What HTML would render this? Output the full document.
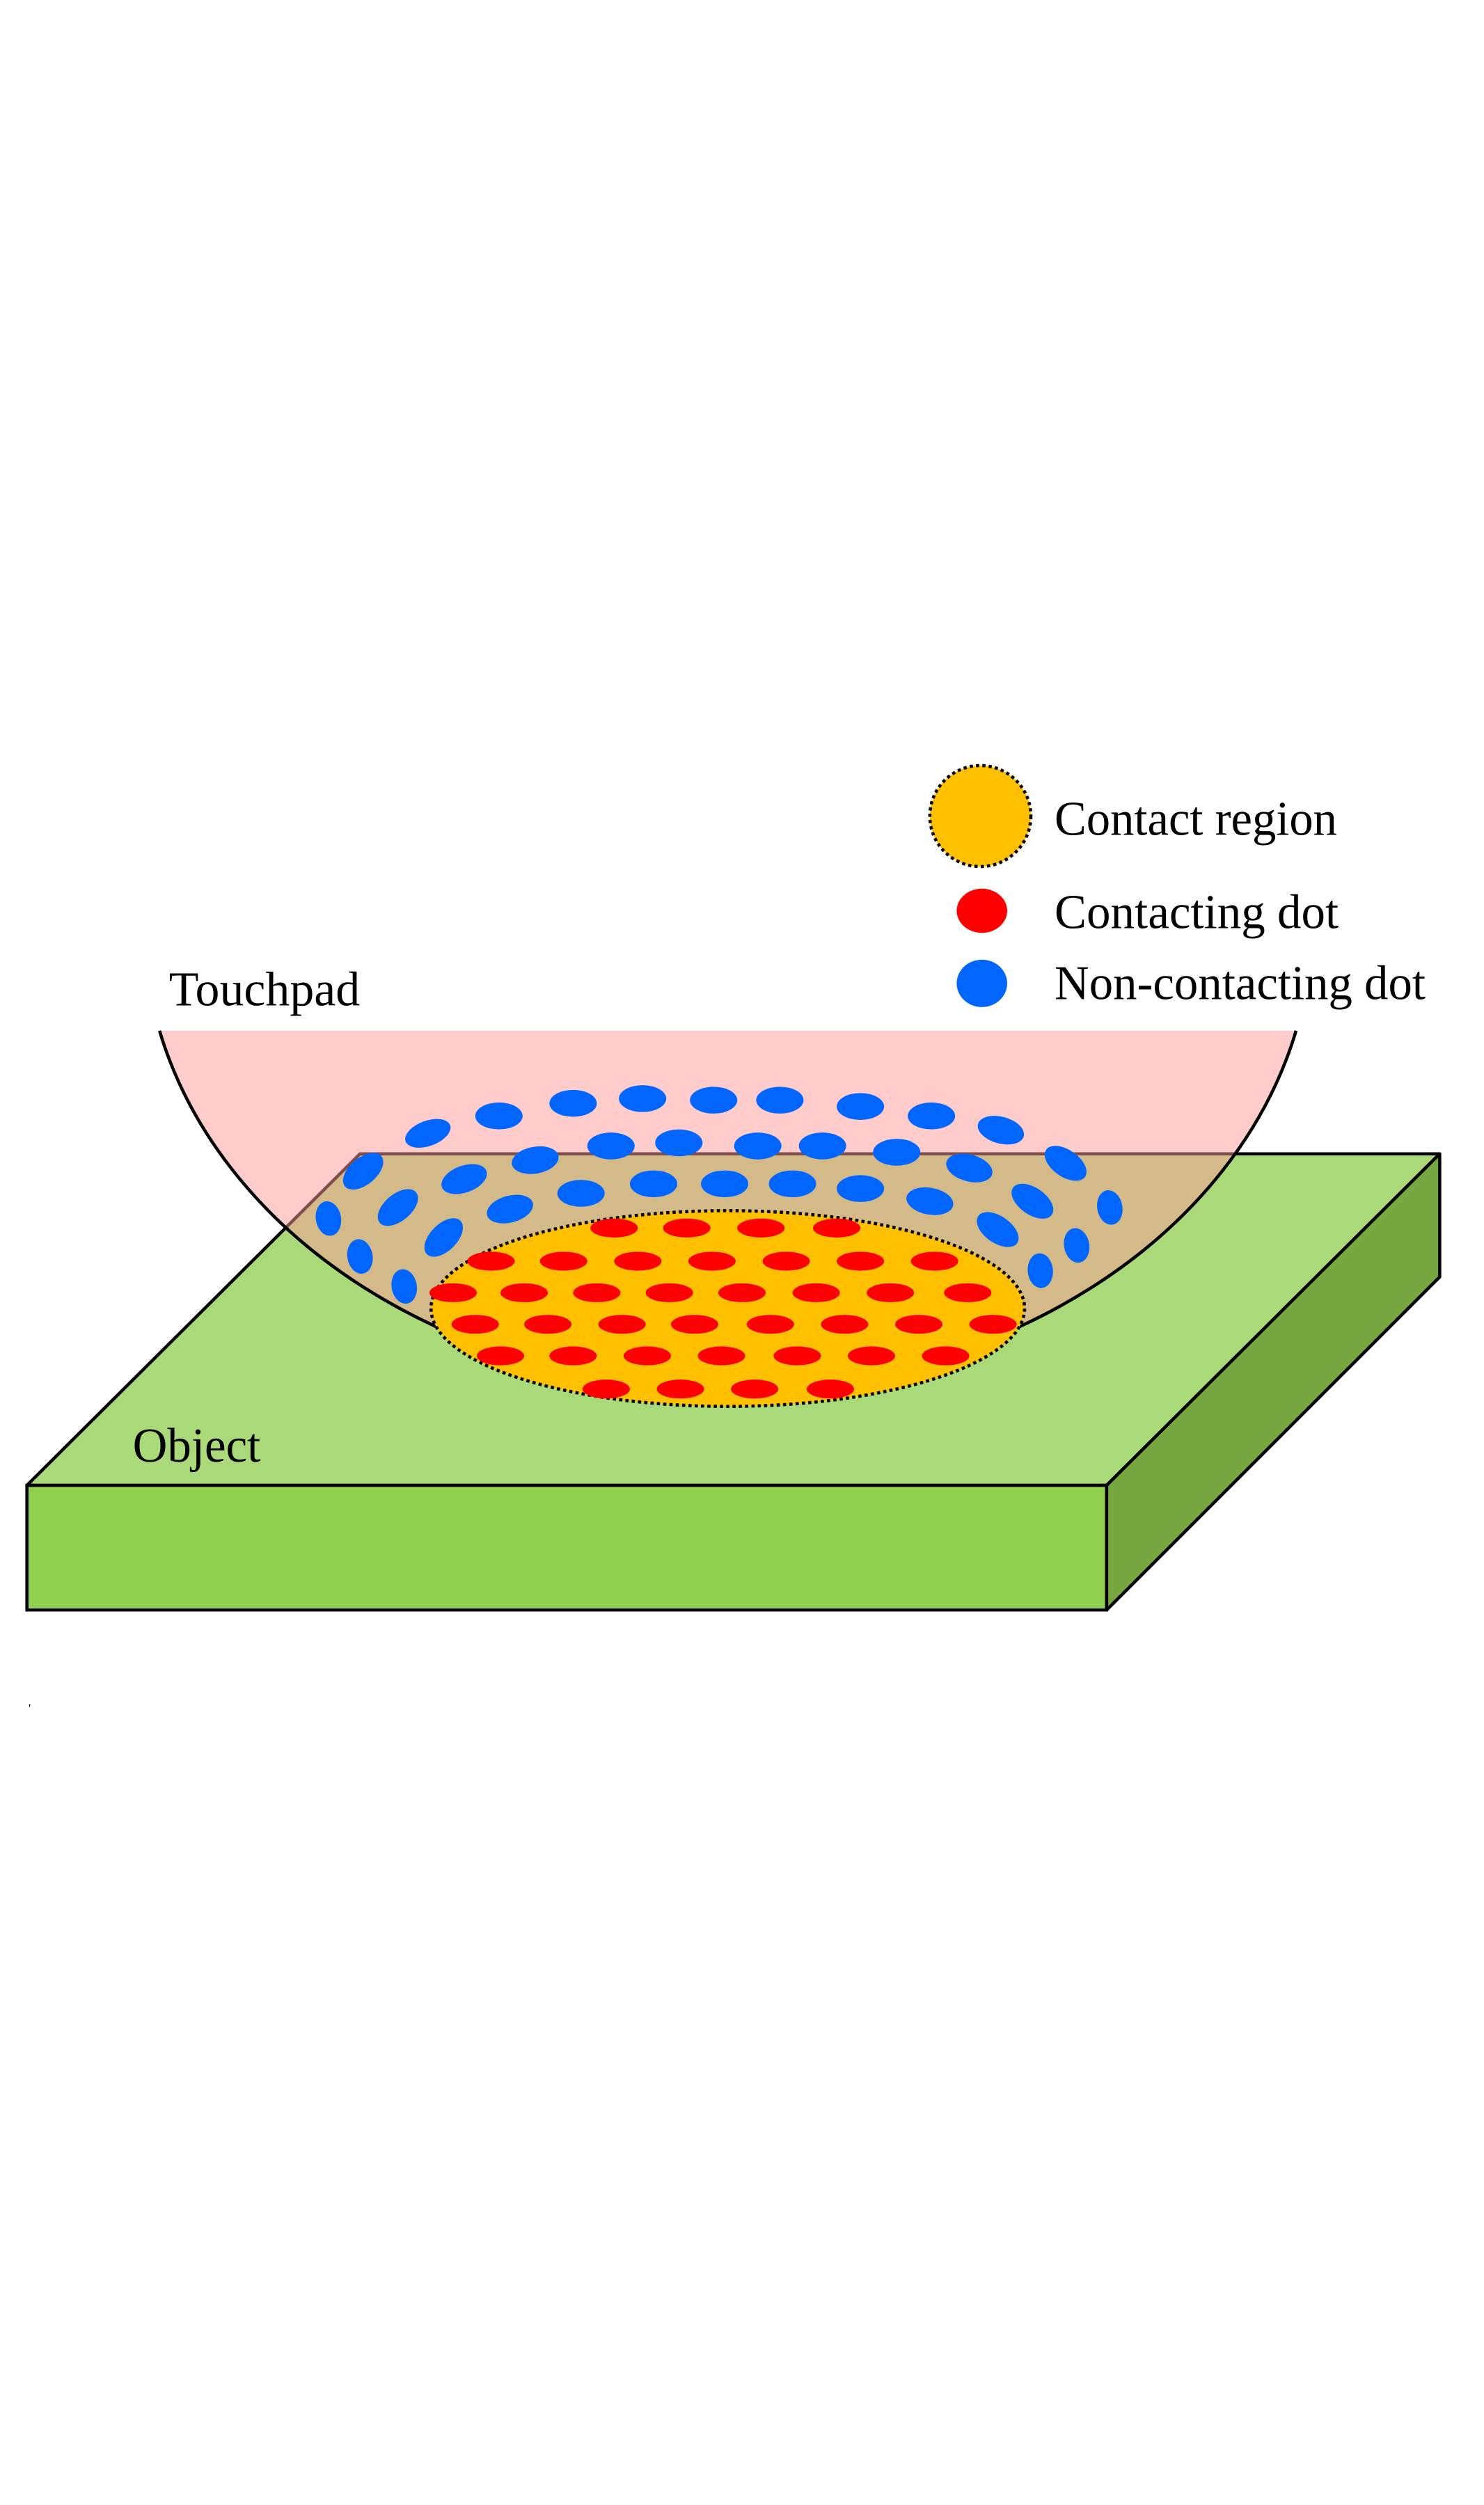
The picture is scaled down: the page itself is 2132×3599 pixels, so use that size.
<!DOCTYPE html>
<html><head><style>html,body{margin:0;padding:0;background:#fff}svg{display:block}</style></head>
<body>
<svg width="2132" height="3599" viewBox="0 0 940 1587" xmlns="http://www.w3.org/2000/svg" font-family="'Liberation Serif', serif">
<rect width="940" height="1587" fill="#fff"/>
<polygon points="17,941 228,731 912,731 701,941" fill="#a9d979" stroke="#000" stroke-width="2" stroke-linejoin="round"/>
<polygon points="17,941 701,941 701,1020 17,1020" fill="#92d050" stroke="#000" stroke-width="2"/>
<polygon points="701,941 912,731 912,809 701,1020" fill="#76a83f" stroke="#000" stroke-width="2" stroke-linejoin="round"/>
<path d="M101,653 A370,295 0 0 0 821,653 Z" fill="#ff9999" fill-opacity="0.5"/>
<path d="M101,653 A370,295 0 0 0 821,653" fill="none" stroke="#000" stroke-width="2"/>
<ellipse cx="461" cy="829" rx="188" ry="62" fill="#ffc000" stroke="#000" stroke-width="2" stroke-dasharray="2,2"/>
<g fill="#ff0000">
<g transform="translate(0,778)"><ellipse cx="389" rx="15" ry="6"/><ellipse cx="435" rx="15" ry="6"/><ellipse cx="482" rx="15" ry="6"/><ellipse cx="530" rx="15" ry="6"/></g>
<g transform="translate(0,799)"><ellipse cx="311" rx="15" ry="6"/><ellipse cx="357" rx="15" ry="6"/><ellipse cx="404" rx="15" ry="6"/><ellipse cx="451" rx="15" ry="6"/><ellipse cx="498" rx="15" ry="6"/><ellipse cx="545" rx="15" ry="6"/><ellipse cx="592" rx="15" ry="6"/></g>
<g transform="translate(0,819)"><ellipse cx="287" rx="15" ry="6"/><ellipse cx="332" rx="15" ry="6"/><ellipse cx="378" rx="15" ry="6"/><ellipse cx="424" rx="15" ry="6"/><ellipse cx="470" rx="15" ry="6"/><ellipse cx="517" rx="15" ry="6"/><ellipse cx="564" rx="15" ry="6"/><ellipse cx="613" rx="15" ry="6"/></g>
<g transform="translate(0,839)"><ellipse cx="301" rx="15" ry="6"/><ellipse cx="347" rx="15" ry="6"/><ellipse cx="394" rx="15" ry="6"/><ellipse cx="440" rx="15" ry="6"/><ellipse cx="488" rx="15" ry="6"/><ellipse cx="535" rx="15" ry="6"/><ellipse cx="582" rx="15" ry="6"/><ellipse cx="629" rx="15" ry="6"/></g>
<g transform="translate(0,859)"><ellipse cx="317" rx="15" ry="6"/><ellipse cx="363" rx="15" ry="6"/><ellipse cx="410" rx="15" ry="6"/><ellipse cx="457" rx="15" ry="6"/><ellipse cx="505" rx="15" ry="6"/><ellipse cx="552" rx="15" ry="6"/><ellipse cx="599" rx="15" ry="6"/></g>
<g transform="translate(0,880)"><ellipse cx="384" rx="15" ry="6"/><ellipse cx="431" rx="15" ry="6"/><ellipse cx="478" rx="15" ry="6"/><ellipse cx="526" rx="15" ry="6"/></g>
</g>
<g fill="#0066ff">
<ellipse cx="271" cy="718" rx="15" ry="8" transform="rotate(-20 271 718)"/>
<ellipse cx="316" cy="707" rx="15" ry="8.5"/>
<ellipse cx="363" cy="699" rx="15" ry="8.5"/>
<ellipse cx="407" cy="696" rx="15" ry="8.5"/>
<ellipse cx="452" cy="697" rx="15" ry="8.5"/>
<ellipse cx="494" cy="697" rx="15" ry="8.5"/>
<ellipse cx="545" cy="701" rx="15" ry="8.5"/>
<ellipse cx="590" cy="707" rx="15" ry="8.5"/>
<ellipse cx="634" cy="716" rx="15" ry="8.5" transform="rotate(15 634 716)"/>
<ellipse cx="675" cy="737" rx="15" ry="8.5" transform="rotate(35 675 737)"/>
<ellipse cx="230" cy="742" rx="15" ry="8.5" transform="rotate(-40 230 742)"/>
<ellipse cx="294" cy="747" rx="15" ry="8.5" transform="rotate(-20 294 747)"/>
<ellipse cx="339" cy="735" rx="15" ry="8.5" transform="rotate(-10 339 735)"/>
<ellipse cx="387" cy="726" rx="15" ry="8.5"/>
<ellipse cx="430" cy="724" rx="15" ry="8.5"/>
<ellipse cx="480" cy="726" rx="15" ry="8.5"/>
<ellipse cx="521" cy="726" rx="15" ry="8.5"/>
<ellipse cx="568" cy="730" rx="15" ry="8.5"/>
<ellipse cx="614" cy="740" rx="15" ry="8.5" transform="rotate(15 614 740)"/>
<ellipse cx="654" cy="761" rx="15" ry="8.5" transform="rotate(35 654 761)"/>
<ellipse cx="703" cy="765" rx="11" ry="8" transform="rotate(80 703 765)"/>
<ellipse cx="208" cy="772" rx="11" ry="8" transform="rotate(80 208 772)"/>
<ellipse cx="252" cy="765" rx="15" ry="8.5" transform="rotate(-40 252 765)"/>
<ellipse cx="323" cy="766" rx="15" ry="8.5" transform="rotate(-15 323 766)"/>
<ellipse cx="368" cy="756" rx="15" ry="8.5"/>
<ellipse cx="414" cy="750" rx="15" ry="8.5"/>
<ellipse cx="459" cy="750" rx="15" ry="8.5"/>
<ellipse cx="502" cy="750" rx="15" ry="8.5"/>
<ellipse cx="545" cy="753" rx="15" ry="8.5"/>
<ellipse cx="589" cy="761" rx="15" ry="8.5" transform="rotate(10 589 761)"/>
<ellipse cx="632" cy="779" rx="15" ry="8.5" transform="rotate(35 632 779)"/>
<ellipse cx="682" cy="789" rx="11" ry="8" transform="rotate(80 682 789)"/>
<ellipse cx="228" cy="796" rx="11" ry="8" transform="rotate(80 228 796)"/>
<ellipse cx="281" cy="784" rx="15" ry="8.5" transform="rotate(-45 281 784)"/>
<ellipse cx="659" cy="805" rx="11" ry="8" transform="rotate(85 659 805)"/>
<ellipse cx="256" cy="815" rx="11" ry="8" transform="rotate(80 256 815)"/>
</g>
<g font-size="31" fill="#000">
<text x="107" y="637" textLength="121" lengthAdjust="spacingAndGlyphs">Touchpad</text>
<text x="84" y="926" textLength="81" lengthAdjust="spacingAndGlyphs">Object</text>
<text x="668" y="529" textLength="179" lengthAdjust="spacingAndGlyphs">Contact region</text>
<text x="668" y="588" textLength="180" lengthAdjust="spacingAndGlyphs">Contacting dot</text>
<text x="668" y="633" textLength="235" lengthAdjust="spacingAndGlyphs">Non-contacting dot</text>
</g>
<circle cx="621" cy="517" r="32" fill="#ffc000" stroke="#000" stroke-width="2" stroke-dasharray="2,2"/>
<ellipse cx="622" cy="577" rx="16" ry="14" fill="#ff0000"/>
<ellipse cx="622" cy="623" rx="16" ry="15" fill="#0066ff"/>
<text x="18" y="1085" font-size="8" fill="#000">'</text>
</svg>
</body></html>
